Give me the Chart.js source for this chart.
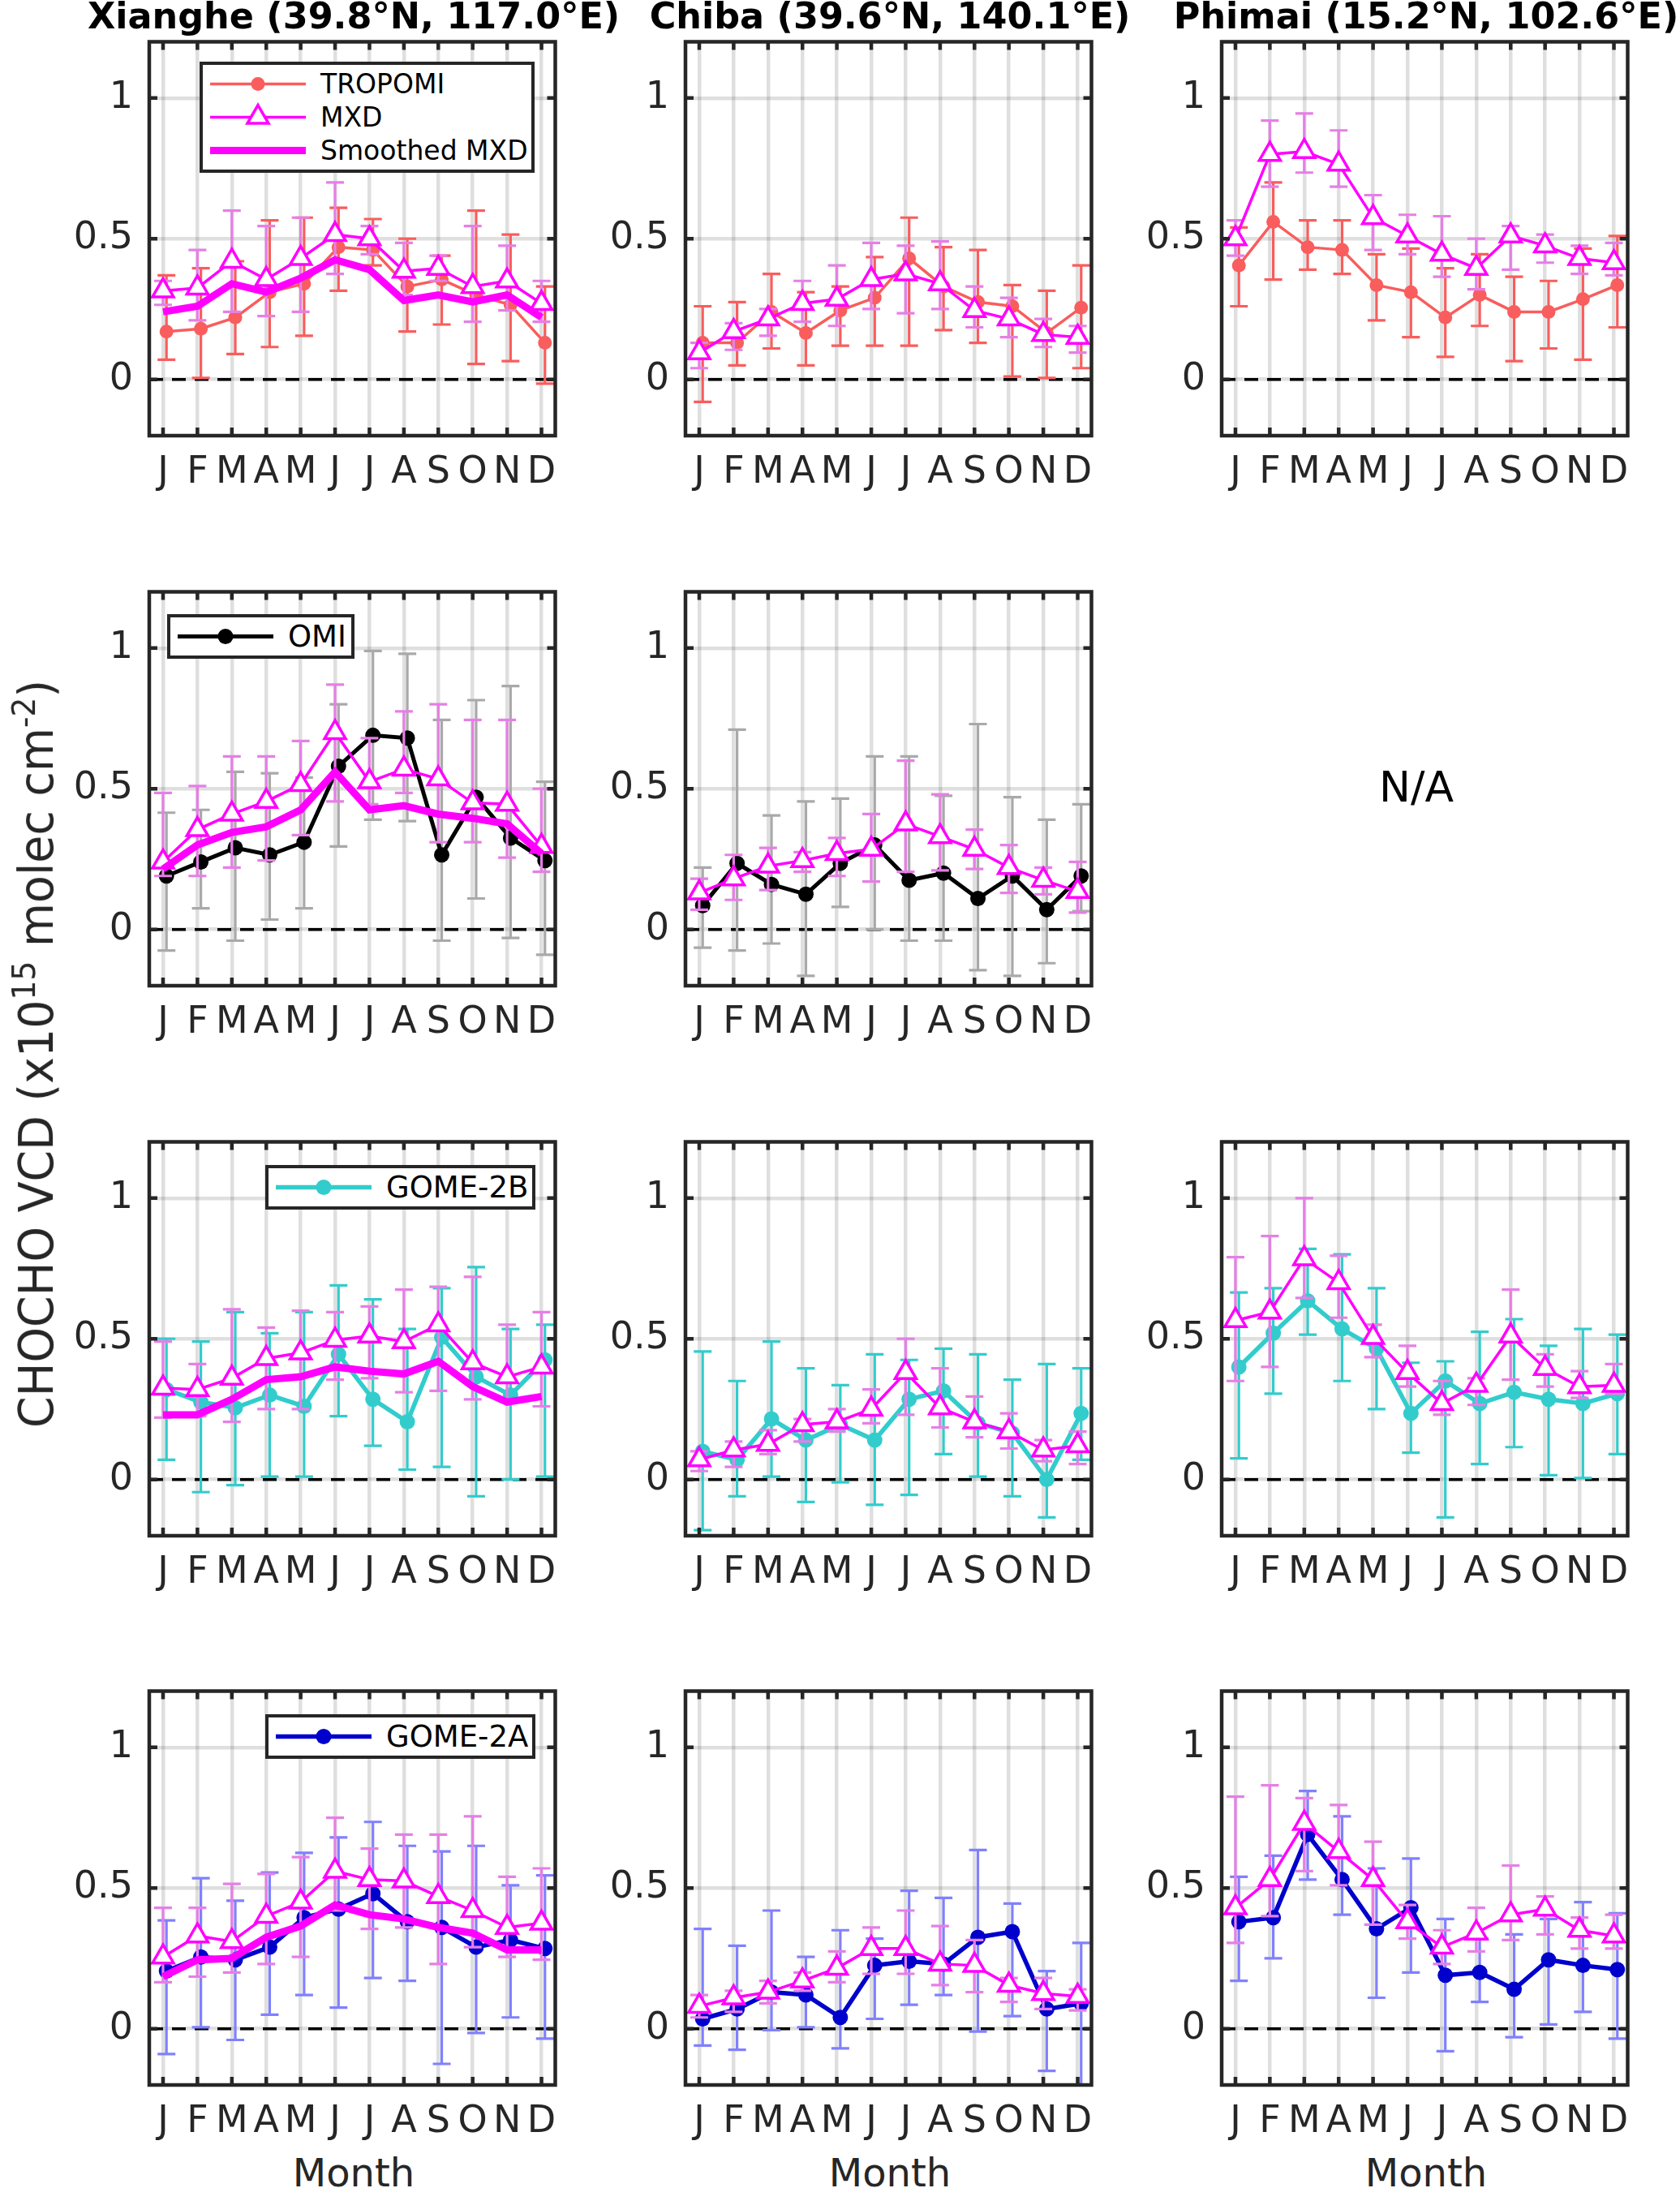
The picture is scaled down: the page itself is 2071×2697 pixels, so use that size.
<!DOCTYPE html>
<html>
<head>
<meta charset="utf-8">
<script src="https://cdn.jsdelivr.net/npm/chart.js@4.4.1/dist/chart.umd.min.js"></script>
<style>
html,body{margin:0;padding:0;background:#fff;}
body{width:2071px;height:2697px;position:relative;overflow:hidden;font-family:'DejaVu Sans',sans-serif;color:#000;}
canvas{position:absolute;}
.title{position:absolute;font-weight:bold;font-size:44.5px;line-height:44px;white-space:nowrap;transform:translateX(-50%);color:#000;}
.xlab{position:absolute;font-size:48px;line-height:48px;color:#262626;transform:translateX(-50%);white-space:nowrap;}
.na{position:absolute;font-size:52px;line-height:52px;color:#000;transform:translate(-50%,-50%);white-space:nowrap;}
.legend{position:absolute;box-sizing:border-box;background:#fff;border:4px solid #262626;padding:3px 0 3px 6px;}
.legend .row{display:flex;align-items:center;height:41px;}
.legend svg{display:block;flex:none;}
.legend span{font-size:33px;margin-left:15px;color:#000;white-space:nowrap;line-height:41px;}
.legend.single span{font-size:37px;}
.ylab{position:absolute;white-space:nowrap;font-family:'DejaVu Sans Condensed','Liberation Sans Narrow','DejaVu Sans',sans-serif;font-size:58px;line-height:58px;color:#262626;transform-origin:50% 50%;}
.ylab sup{font-size:0.68em;vertical-align:0.55em;line-height:0;}
</style>
</head>
<body>
<script>
// ---------------- axes / categories ----------------
const months = [1,2,3,4,5,6,7,8,9,10,11,12];
const monthLabels = ['J','F','M','A','M','J','J','A','S','O','N','D'];
const yTickValues = [0, 0.5, 1];
const siteTitles = ['Xianghe (39.8°N, 117.0°E)', 'Chiba (39.6°N, 140.1°E)', 'Phimai (15.2°N, 102.6°E)'];

// ---------------- Xianghe / TROPOMI ----------------
const xhTropomi      = [0.17, 0.18, 0.22, 0.31, 0.34, 0.47, 0.46, 0.33, 0.355, 0.30, 0.265, 0.13];
const xhTropomiLo    = [0.07, 0.005, 0.09, 0.115, 0.155, 0.315, 0.405, 0.17, 0.195, 0.055, 0.065, -0.015];
const xhTropomiHi    = [0.37, 0.395, 0.42, 0.565, 0.575, 0.61, 0.57, 0.50, 0.44, 0.60, 0.515, 0.33];
const xhTropomiMxd   = [0.315, 0.325, 0.42, 0.355, 0.43, 0.515, 0.50, 0.385, 0.395, 0.33, 0.35, 0.27];
const xhTropomiMxdLo = [0.265, 0.21, 0.24, 0.225, 0.24, 0.375, 0.445, 0.30, 0.35, 0.205, 0.245, 0.205];
const xhTropomiMxdHi = [0.35, 0.46, 0.60, 0.545, 0.575, 0.70, 0.545, 0.485, 0.44, 0.545, 0.475, 0.35];
const xhTropomiSmooth= [0.24, 0.26, 0.34, 0.31, 0.36, 0.425, 0.39, 0.28, 0.30, 0.275, 0.30, 0.22];

// ---------------- Chiba / TROPOMI ----------------
const cbTropomi      = [0.13, 0.13, 0.24, 0.165, 0.245, 0.29, 0.43, 0.33, 0.275, 0.26, 0.165, 0.255];
const cbTropomiLo    = [-0.08, 0.05, 0.11, 0.05, 0.12, 0.12, 0.12, 0.175, 0.13, 0.01, 0.005, 0.04];
const cbTropomiHi    = [0.26, 0.275, 0.375, 0.31, 0.33, 0.435, 0.575, 0.47, 0.46, 0.335, 0.315, 0.405];
const cbTropomiMxd   = [0.095, 0.17, 0.215, 0.27, 0.285, 0.355, 0.375, 0.34, 0.245, 0.215, 0.16, 0.15];
const cbTropomiMxdLo = [0.04, 0.105, 0.155, 0.205, 0.19, 0.25, 0.235, 0.25, 0.185, 0.15, 0.115, 0.095];
const cbTropomiMxdHi = [0.13, 0.20, 0.25, 0.35, 0.405, 0.485, 0.475, 0.49, 0.33, 0.29, 0.215, 0.19];

// ---------------- Phimai / TROPOMI ----------------
const pmTropomi      = [0.405, 0.56, 0.47, 0.46, 0.335, 0.31, 0.22, 0.30, 0.24, 0.24, 0.285, 0.335];
const pmTropomiLo    = [0.26, 0.355, 0.39, 0.375, 0.21, 0.15, 0.08, 0.19, 0.065, 0.11, 0.07, 0.185];
const pmTropomiHi    = [0.54, 0.70, 0.565, 0.565, 0.445, 0.465, 0.395, 0.445, 0.365, 0.35, 0.465, 0.51];
const pmTropomiMxd   = [0.50, 0.80, 0.81, 0.765, 0.575, 0.51, 0.445, 0.395, 0.51, 0.475, 0.43, 0.415];
const pmTropomiMxdLo = [0.44, 0.685, 0.735, 0.685, 0.46, 0.445, 0.365, 0.32, 0.39, 0.415, 0.375, 0.37];
const pmTropomiMxdHi = [0.565, 0.92, 0.945, 0.885, 0.655, 0.585, 0.58, 0.50, 0.545, 0.515, 0.475, 0.485];

// ---------------- Xianghe / OMI ----------------
const xhOmi      = [0.19, 0.24, 0.29, 0.265, 0.31, 0.58, 0.69, 0.68, 0.265, 0.47, 0.325, 0.245];
const xhOmiLo    = [-0.075, 0.075, -0.04, 0.035, 0.075, 0.295, 0.39, 0.385, -0.04, 0.11, -0.03, -0.09];
const xhOmiHi    = [0.415, 0.425, 0.56, 0.555, 0.54, 0.80, 0.99, 0.98, 0.745, 0.815, 0.865, 0.525];
const xhOmiMxd   = [0.24, 0.355, 0.41, 0.455, 0.515, 0.70, 0.525, 0.57, 0.535, 0.45, 0.445, 0.295];
const xhOmiMxdLo = [0.19, 0.19, 0.22, 0.245, 0.335, 0.455, 0.445, 0.485, 0.31, 0.31, 0.255, 0.205];
const xhOmiMxdHi = [0.485, 0.51, 0.615, 0.615, 0.67, 0.87, 0.68, 0.775, 0.80, 0.745, 0.745, 0.50];
const xhOmiSmooth= [0.215, 0.30, 0.345, 0.365, 0.425, 0.56, 0.425, 0.44, 0.41, 0.395, 0.375, 0.27];

// ---------------- Chiba / OMI ----------------
const cbOmi      = [0.085, 0.235, 0.16, 0.125, 0.235, 0.30, 0.175, 0.20, 0.11, 0.19, 0.07, 0.19];
const cbOmiLo    = [-0.065, -0.075, -0.05, -0.165, 0.08, 0.0, -0.04, -0.04, -0.145, -0.165, -0.12, 0.065];
const cbOmiHi    = [0.22, 0.71, 0.405, 0.455, 0.465, 0.615, 0.615, 0.475, 0.73, 0.47, 0.39, 0.445];
const cbOmiMxd   = [0.13, 0.18, 0.225, 0.245, 0.27, 0.285, 0.375, 0.33, 0.285, 0.22, 0.175, 0.135];
const cbOmiMxdLo = [0.07, 0.105, 0.14, 0.205, 0.19, 0.17, 0.205, 0.21, 0.215, 0.13, 0.125, 0.06];
const cbOmiMxdHi = [0.18, 0.265, 0.29, 0.275, 0.325, 0.41, 0.60, 0.48, 0.355, 0.30, 0.22, 0.24];

// ---------------- Xianghe / GOME-2B ----------------
const xhG2b      = [0.32, 0.275, 0.255, 0.30, 0.26, 0.445, 0.285, 0.205, 0.505, 0.365, 0.30, 0.425];
const xhG2bLo    = [0.07, -0.045, -0.02, 0.01, 0.01, 0.225, 0.12, 0.035, 0.045, -0.06, 0.0, 0.01];
const xhG2bHi    = [0.50, 0.49, 0.595, 0.52, 0.595, 0.69, 0.64, 0.535, 0.68, 0.755, 0.535, 0.55];
const xhG2bMxd   = [0.325, 0.32, 0.36, 0.43, 0.45, 0.495, 0.51, 0.49, 0.55, 0.415, 0.365, 0.40];
const xhG2bMxdLo = [0.22, 0.225, 0.205, 0.25, 0.25, 0.355, 0.36, 0.31, 0.315, 0.285, 0.28, 0.26];
const xhG2bMxdHi = [0.49, 0.41, 0.605, 0.54, 0.60, 0.595, 0.615, 0.675, 0.685, 0.72, 0.55, 0.595];
const xhG2bSmooth= [0.23, 0.23, 0.285, 0.355, 0.365, 0.40, 0.385, 0.375, 0.42, 0.33, 0.275, 0.295];

// ---------------- Chiba / GOME-2B ----------------
const cbG2b      = [0.10, 0.07, 0.215, 0.14, 0.195, 0.14, 0.285, 0.315, 0.20, 0.165, 0.0, 0.235];
const cbG2bLo    = [-0.18, -0.06, 0.01, -0.08, -0.01, -0.09, -0.055, 0.09, 0.01, -0.06, -0.135, 0.07];
const cbG2bHi    = [0.455, 0.35, 0.49, 0.395, 0.335, 0.445, 0.425, 0.465, 0.445, 0.355, 0.41, 0.395];
const cbG2bMxd   = [0.07, 0.105, 0.125, 0.195, 0.205, 0.25, 0.38, 0.255, 0.205, 0.17, 0.105, 0.12];
const cbG2bMxdLo = [0.03, 0.045, 0.09, 0.135, 0.17, 0.20, 0.23, 0.185, 0.15, 0.11, 0.065, 0.055];
const cbG2bMxdHi = [0.10, 0.135, 0.175, 0.215, 0.25, 0.32, 0.50, 0.395, 0.295, 0.235, 0.14, 0.17];

// ---------------- Phimai / GOME-2B ----------------
const pmG2b      = [0.40, 0.52, 0.635, 0.535, 0.465, 0.235, 0.35, 0.27, 0.31, 0.285, 0.27, 0.305];
const pmG2bLo    = [0.075, 0.305, 0.515, 0.35, 0.25, 0.095, -0.135, 0.055, 0.115, 0.015, 0.005, 0.09];
const pmG2bHi    = [0.665, 0.68, 0.82, 0.80, 0.68, 0.415, 0.42, 0.525, 0.57, 0.475, 0.535, 0.515];
const pmG2bMxd   = [0.565, 0.595, 0.785, 0.70, 0.505, 0.38, 0.27, 0.335, 0.51, 0.395, 0.33, 0.335];
const pmG2bMxdLo = [0.35, 0.40, 0.645, 0.575, 0.435, 0.33, 0.23, 0.265, 0.355, 0.33, 0.29, 0.305];
const pmG2bMxdHi = [0.79, 0.865, 1.0, 0.795, 0.55, 0.475, 0.35, 0.36, 0.675, 0.445, 0.385, 0.41];

// ---------------- Xianghe / GOME-2A ----------------
const xhG2a      = [0.205, 0.255, 0.245, 0.29, 0.395, 0.425, 0.48, 0.38, 0.36, 0.29, 0.315, 0.285];
const xhG2aLo    = [-0.09, 0.005, -0.04, 0.05, 0.12, 0.075, 0.18, 0.17, -0.125, -0.015, 0.04, -0.035];
const xhG2aHi    = [0.385, 0.535, 0.455, 0.555, 0.625, 0.68, 0.735, 0.65, 0.63, 0.65, 0.51, 0.545];
const xhG2aMxd   = [0.255, 0.33, 0.31, 0.40, 0.45, 0.56, 0.53, 0.525, 0.47, 0.42, 0.36, 0.375];
const xhG2aMxdLo = [0.165, 0.185, 0.20, 0.23, 0.255, 0.42, 0.355, 0.36, 0.23, 0.29, 0.255, 0.245];
const xhG2aMxdHi = [0.43, 0.43, 0.515, 0.55, 0.61, 0.75, 0.64, 0.69, 0.69, 0.755, 0.54, 0.57];
const xhG2aSmooth= [0.185, 0.245, 0.25, 0.325, 0.365, 0.44, 0.405, 0.39, 0.36, 0.34, 0.28, 0.28];

// ---------------- Chiba / GOME-2A ----------------
const cbG2a      = [0.035, 0.07, 0.13, 0.12, 0.04, 0.225, 0.24, 0.23, 0.325, 0.345, 0.07, 0.09];
const cbG2aLo    = [-0.06, -0.075, -0.005, 0.005, -0.07, 0.035, 0.085, 0.12, -0.01, 0.045, -0.15, -0.25];
const cbG2aHi    = [0.355, 0.295, 0.42, 0.255, 0.35, 0.32, 0.49, 0.465, 0.635, 0.445, 0.205, 0.305];
const cbG2aMxd   = [0.08, 0.11, 0.13, 0.17, 0.215, 0.285, 0.285, 0.23, 0.225, 0.155, 0.125, 0.115];
const cbG2aMxdLo = [0.04, 0.06, 0.09, 0.135, 0.165, 0.195, 0.195, 0.155, 0.13, 0.095, 0.07, 0.065];
const cbG2aMxdHi = [0.12, 0.135, 0.17, 0.20, 0.275, 0.36, 0.42, 0.365, 0.315, 0.18, 0.18, 0.14];

// ---------------- Phimai / GOME-2A ----------------
const pmG2a      = [0.38, 0.395, 0.69, 0.53, 0.355, 0.43, 0.19, 0.20, 0.14, 0.245, 0.225, 0.21];
const pmG2aLo    = [0.17, 0.25, 0.53, 0.405, 0.11, 0.20, -0.08, 0.095, -0.03, 0.015, 0.06, -0.035];
const pmG2aHi    = [0.54, 0.615, 0.845, 0.755, 0.57, 0.605, 0.39, 0.32, 0.335, 0.39, 0.45, 0.41];
const pmG2aMxd   = [0.43, 0.53, 0.73, 0.63, 0.53, 0.38, 0.29, 0.34, 0.405, 0.425, 0.35, 0.33];
const pmG2aMxdLo = [0.305, 0.40, 0.56, 0.51, 0.37, 0.32, 0.23, 0.275, 0.315, 0.335, 0.285, 0.285];
const pmG2aMxdHi = [0.825, 0.865, 0.82, 0.795, 0.665, 0.44, 0.35, 0.43, 0.58, 0.47, 0.395, 0.405];

// ---------------- panel definitions ----------------
const panels = [
  {row:0, col:0, sat:'TROPOMI', v:xhTropomi, lo:xhTropomiLo, hi:xhTropomiHi, m:xhTropomiMxd, mlo:xhTropomiMxdLo, mhi:xhTropomiMxdHi, s:xhTropomiSmooth, legend:'full'},
  {row:0, col:1, sat:'TROPOMI', v:cbTropomi, lo:cbTropomiLo, hi:cbTropomiHi, m:cbTropomiMxd, mlo:cbTropomiMxdLo, mhi:cbTropomiMxdHi},
  {row:0, col:2, sat:'TROPOMI', v:pmTropomi, lo:pmTropomiLo, hi:pmTropomiHi, m:pmTropomiMxd, mlo:pmTropomiMxdLo, mhi:pmTropomiMxdHi},
  {row:1, col:0, sat:'OMI', v:xhOmi, lo:xhOmiLo, hi:xhOmiHi, m:xhOmiMxd, mlo:xhOmiMxdLo, mhi:xhOmiMxdHi, s:xhOmiSmooth, legend:'left'},
  {row:1, col:1, sat:'OMI', v:cbOmi, lo:cbOmiLo, hi:cbOmiHi, m:cbOmiMxd, mlo:cbOmiMxdLo, mhi:cbOmiMxdHi},
  {row:2, col:0, sat:'GOME-2B', v:xhG2b, lo:xhG2bLo, hi:xhG2bHi, m:xhG2bMxd, mlo:xhG2bMxdLo, mhi:xhG2bMxdHi, s:xhG2bSmooth, legend:'right'},
  {row:2, col:1, sat:'GOME-2B', v:cbG2b, lo:cbG2bLo, hi:cbG2bHi, m:cbG2bMxd, mlo:cbG2bMxdLo, mhi:cbG2bMxdHi},
  {row:2, col:2, sat:'GOME-2B', v:pmG2b, lo:pmG2bLo, hi:pmG2bHi, m:pmG2bMxd, mlo:pmG2bMxdLo, mhi:pmG2bMxdHi},
  {row:3, col:0, sat:'GOME-2A', v:xhG2a, lo:xhG2aLo, hi:xhG2aHi, m:xhG2aMxd, mlo:xhG2aMxdLo, mhi:xhG2aMxdHi, s:xhG2aSmooth, legend:'right'},
  {row:3, col:1, sat:'GOME-2A', v:cbG2a, lo:cbG2aLo, hi:cbG2aHi, m:cbG2aMxd, mlo:cbG2aMxdLo, mhi:cbG2aMxdHi},
  {row:3, col:2, sat:'GOME-2A', v:pmG2a, lo:pmG2aLo, hi:pmG2aHi, m:pmG2aMxd, mlo:pmG2aMxdLo, mhi:pmG2aMxdHi},
];

// ---------------- styles / layout ----------------
const satStyle = {
  'TROPOMI': {color:'#f95d5d', err:'#f95d5d', lw:3.5, r:8.5},
  'OMI':     {color:'#000000', err:'#a9a9a9', lw:5,   r:9.5},
  'GOME-2B': {color:'#33cccc', err:'#33cccc', lw:5.5, r:9.5},
  'GOME-2A': {color:'#0000cc', err:'#8080ff', lw:5.5, r:9.5},
};
const MXD_COLOR = '#ff00ff', MXD_ERR = '#e67fe6';
const SAT_SHIFT = 0.1;
const colLeft = [184, 845, 1506], rowTop = [48, 726, 1404, 2081];
const BOX_W = 504, BOX_H = 489;
const PAD_L = 130, PAD_T = 15, PAD_R = 15, PAD_B = 80;
const FRAME = '#262626';

Chart.defaults.font.family = "'DejaVu Sans', sans-serif";

const errorBars = {
  id: 'errorBars',
  beforeDatasetDraw(chart, args) {
    const ds = chart.data.datasets[args.index];
    if (!ds.errLo) return;
    const {ctx, chartArea: ca, scales: {x, y}} = chart;
    ctx.save();
    ctx.beginPath(); ctx.rect(ca.left, ca.top, ca.right - ca.left, ca.bottom - ca.top); ctx.clip();
    ctx.strokeStyle = ds.errColor; ctx.lineWidth = 3.2; ctx.lineCap = 'butt';
    ds.data.forEach((p, i) => {
      const px = x.getPixelForValue(p.x);
      const y1 = y.getPixelForValue(ds.errLo[i]), y2 = y.getPixelForValue(ds.errHi[i]);
      ctx.beginPath();
      ctx.moveTo(px, y1); ctx.lineTo(px, y2);
      ctx.moveTo(px - 11, y1); ctx.lineTo(px + 11, y1);
      ctx.moveTo(px - 11, y2); ctx.lineTo(px + 11, y2);
      ctx.stroke();
    });
    ctx.restore();
  }
};

const frame = {
  id: 'frame',
  beforeDatasetsDraw(chart) {
    const {ctx, chartArea: ca, scales: {y}} = chart;
    const y0 = y.getPixelForValue(0);
    ctx.save();
    ctx.strokeStyle = '#000'; ctx.lineWidth = 3.5; ctx.setLineDash([17, 11]);
    ctx.beginPath(); ctx.moveTo(ca.left, y0); ctx.lineTo(ca.right, y0); ctx.stroke();
    ctx.restore();
  },
  afterDraw(chart) {
    const {ctx, chartArea: ca, scales: {x, y}} = chart;
    ctx.save();
    ctx.strokeStyle = FRAME; ctx.lineWidth = 4.5;
    ctx.beginPath();
    months.forEach(m => {
      const px = x.getPixelForValue(m);
      ctx.moveTo(px, ca.bottom); ctx.lineTo(px, ca.bottom - 10);
      ctx.moveTo(px, ca.top); ctx.lineTo(px, ca.top + 10);
    });
    yTickValues.forEach(v => {
      const py = y.getPixelForValue(v);
      ctx.moveTo(ca.left, py); ctx.lineTo(ca.left + 10, py);
      ctx.moveTo(ca.right, py); ctx.lineTo(ca.right - 10, py);
    });
    ctx.stroke();
    ctx.strokeRect(ca.left, ca.top, ca.right - ca.left, ca.bottom - ca.top);
    ctx.restore();
  }
};

function makePanel(p) {
  const st = satStyle[p.sat];
  const L = colLeft[p.col], T = rowTop[p.row];
  const cv = document.createElement('canvas');
  const W = BOX_W + PAD_L + PAD_R, H = BOX_H + PAD_T + PAD_B;
  cv.width = W; cv.height = H;
  cv.style.left = (L - PAD_L) + 'px'; cv.style.top = (T - PAD_T) + 'px';
  cv.style.width = W + 'px'; cv.style.height = H + 'px';
  document.body.appendChild(cv);

  const datasets = [];
  if (p.s) datasets.push({
    label: 'Smoothed MXD', data: months.map((m, i) => ({x: m, y: p.s[i]})),
    borderColor: MXD_COLOR, borderWidth: 9, pointRadius: 0, fill: false, order: 1
  });
  datasets.push({
    label: 'MXD', data: months.map((m, i) => ({x: m, y: p.m[i]})),
    errLo: p.mlo, errHi: p.mhi, errColor: MXD_ERR,
    borderColor: MXD_COLOR, borderWidth: 3.5, pointStyle: 'triangle', pointRadius: 15,
    pointBackgroundColor: '#ffffff', pointBorderColor: MXD_COLOR, pointBorderWidth: 3.5, fill: false, order: 2
  });
  datasets.push({
    label: p.sat, data: months.map((m, i) => ({x: m + SAT_SHIFT, y: p.v[i]})),
    errLo: p.lo, errHi: p.hi, errColor: st.err,
    borderColor: st.color, borderWidth: st.lw, pointStyle: 'circle', pointRadius: st.r,
    pointBackgroundColor: st.color, pointBorderColor: st.color, pointBorderWidth: 0, fill: false, order: 3
  });

  const gridStyle = {color: 'rgba(38,38,38,0.15)', lineWidth: 4.5, drawTicks: false};
  new Chart(cv, {
    type: 'line',
    data: {datasets},
    plugins: [errorBars, frame],
    options: {
      responsive: false, animation: false, devicePixelRatio: 1, events: [],
      layout: {padding: {left: 0, top: PAD_T, right: PAD_R, bottom: 0}},
      plugins: {legend: {display: false}, tooltip: {enabled: false}},
      scales: {
        x: {
          type: 'linear', min: 0.6, max: 12.4,
          afterBuildTicks: s => { s.ticks = months.map(v => ({value: v})); },
          afterFit: s => { s.height = PAD_B; s.paddingLeft = 0; s.paddingRight = 0; },
          ticks: {callback: v => monthLabels[Math.round(v) - 1], font: {size: 46}, color: '#262626',
                  padding: 18, maxRotation: 0, minRotation: 0, autoSkip: false},
          grid: gridStyle, border: {display: false}
        },
        y: {
          type: 'linear', min: -0.2, max: 1.2,
          afterBuildTicks: s => { s.ticks = yTickValues.map(v => ({value: v})); },
          afterFit: s => { s.width = PAD_L; s.paddingTop = 0; s.paddingBottom = 0; },
          ticks: {callback: v => String(v), font: {size: 46}, color: '#262626', padding: 20},
          grid: gridStyle, border: {display: false}
        }
      }
    }
  });

  if (p.legend) makeLegend(p, L, T, st);
}

function sampleSvg(kind, st) {
  const w = 124, h = 41, cy = 20.5, cx = 62;
  let inner = '';
  if (kind === 'sat') {
    inner = `<line x1="3" y1="${cy}" x2="121" y2="${cy}" stroke="${st.color}" stroke-width="${st.lw}"/>` +
            `<circle cx="${cx}" cy="${cy}" r="${st.r}" fill="${st.color}"/>`;
  } else if (kind === 'mxd') {
    const r = 15, dx = r * Math.sin(Math.PI / 3), dy = r / 2;
    inner = `<line x1="3" y1="${cy}" x2="121" y2="${cy}" stroke="${MXD_COLOR}" stroke-width="3.5"/>` +
            `<polygon points="${cx},${cy - r} ${cx + dx},${cy + dy} ${cx - dx},${cy + dy}" fill="#fff" stroke="${MXD_COLOR}" stroke-width="3.5"/>`;
  } else {
    inner = `<line x1="3" y1="${cy}" x2="121" y2="${cy}" stroke="${MXD_COLOR}" stroke-width="9"/>`;
  }
  return `<svg width="${w}" height="${h}" viewBox="0 0 ${w} ${h}">${inner}</svg>`;
}

function makeLegend(p, L, T, st) {
  const d = document.createElement('div');
  d.className = 'legend' + (p.legend === 'full' ? '' : ' single');
  const rows = [['sat', p.sat]];
  if (p.legend === 'full') { rows.push(['mxd', 'MXD']); rows.push(['smooth', 'Smoothed MXD']); }
  d.innerHTML = rows.map(r => `<div class="row">${sampleSvg(r[0], st)}<span>${r[1]}</span></div>`).join('');
  if (p.legend === 'full') { d.style.left = (L + 62) + 'px'; d.style.top = (T + 28) + 'px'; d.style.width = '413px'; }
  else if (p.legend === 'left') { d.style.left = (L + 22) + 'px'; d.style.top = (T + 31) + 'px'; d.style.width = '231px'; }
  else { d.style.left = (L + BOX_W - 28 - 333) + 'px'; d.style.top = (T + 32) + 'px'; d.style.width = '333px'; }
  document.body.appendChild(d);
}

panels.forEach(makePanel);

// ---------------- titles & labels ----------------
siteTitles.forEach((t, c) => {
  const d = document.createElement('div');
  d.className = 'title'; d.textContent = t;
  d.style.left = (colLeft[c] + BOX_W / 2) + 'px'; d.style.top = '-2px';
  document.body.appendChild(d);
  const xl = document.createElement('div');
  xl.className = 'xlab'; xl.textContent = 'Month';
  xl.style.left = (colLeft[c] + BOX_W / 2) + 'px'; xl.style.top = '2654px';
  document.body.appendChild(xl);
});

const na = document.createElement('div');
na.className = 'na'; na.textContent = 'N/A';
na.style.left = '1746px'; na.style.top = '970px';
document.body.appendChild(na);

const yl = document.createElement('div');
yl.className = 'ylab';
yl.innerHTML = 'CHOCHO VCD (x10<sup>15</sup> molec cm<sup>-2</sup>)';
document.body.appendChild(yl);
const w0 = yl.offsetWidth, h0 = yl.offsetHeight;
const targetLen = 922;
yl.style.left = (45 - w0 / 2) + 'px';
yl.style.top = (1299 - h0 / 2) + 'px';
yl.style.transform = `rotate(-90deg) scaleX(${targetLen / w0})`;
</script>
</body>
</html>
